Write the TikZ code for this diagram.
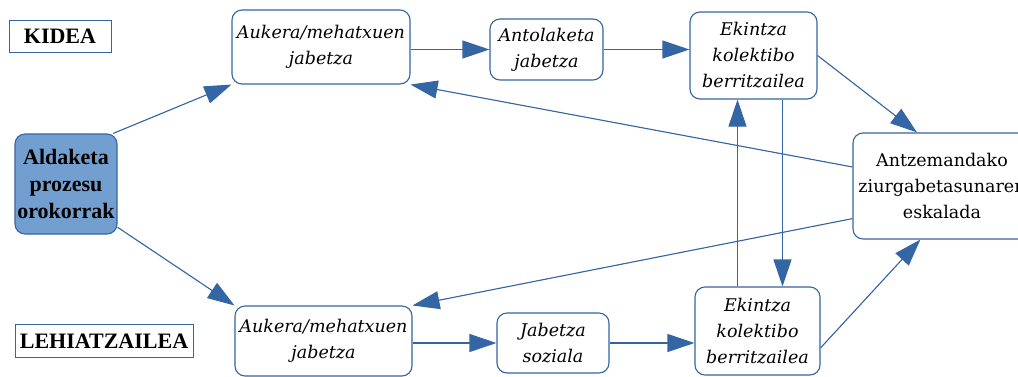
\documentclass[tikz,border=0pt]{standalone}
\usepackage{fontspec}
\setmainfont{DejaVu Serif}
\newfontfamily\labelfont{Liberation Serif}
\usetikzlibrary{positioning, shapes, arrows.meta, calc}

\definecolor{boxblue}{HTML}{3465A4}
\definecolor{fillblue}{HTML}{729FCF}

\begin{document}
\begin{tikzpicture}[x=1pt, y=-1pt,
  box/.style={draw=boxblue, line width=1.1pt, rectangle, rounded corners=10pt, fill=white,
    align=center, inner sep=0pt, font=\fontsize{17.5}{26}\selectfont\itshape},
  tag/.style={draw=boxblue, line width=1pt, rectangle, inner sep=0pt,
    font=\labelfont\bfseries\fontsize{22}{27}\selectfont},
  arr/.style={-{Triangle[length=27pt, width=18pt]}, draw=boxblue, fill=boxblue, line width=1.1pt}]
  \useasboundingbox[fill=white] (0,0) rectangle (1018,376);

  \node[tag, minimum width=102pt, minimum height=32pt] (kidea) at (60,36) {KIDEA};
  \node[tag, minimum width=178pt, minimum height=33pt] (lehia) at (104,341) {LEHIATZAILEA};
  \node[box, fill=fillblue, minimum width=102pt, minimum height=100pt,
    font=\labelfont\bfseries\fontsize{22}{27}\selectfont] (ald) at (66,184) {Aldaketa\\prozesu\\orokorrak};

  \node[box, minimum width=178pt, minimum height=74pt] (auk1) at (321,47) {Aukera/mehatxuen\\jabetza};
  \node[box, minimum width=113pt, minimum height=61pt] (antol) at (546.5,49.5) {Antolaketa\\jabetza};
  \node[box, minimum width=127pt, minimum height=87pt] (ek1) at (753.5,55.5) {Ekintza\\kolektibo\\berritzailea};
  \node[box, minimum width=178pt, minimum height=106pt, font=\fontsize{17.5}{26}\selectfont] (ant) at (942,186) {Antzemandako\\ziurgabetasunaren\\eskalada};

  \node[box, minimum width=177pt, minimum height=70pt] (auk2) at (323.5,341) {Aukera/mehatxuen\\jabetza};
  \node[box, minimum width=112pt, minimum height=60pt] (jab) at (553,343) {Jabetza\\soziala};
  \node[box, minimum width=125pt, minimum height=88pt] (ek2) at (757.5,331) {Ekintza\\kolektibo\\berritzailea};

  % goiko bidea
  \draw[arr] (ald.47) -- (auk1.south west);
  \draw[arr] (antol.west -| auk1.east) -- (antol.west);
  \draw[arr] (antol.east) -- (antol.east -| ek1.west);
  \draw[arr] (ek1.east) -- (ant.115);
  \draw[arr] (ant.168) -- (auk1.south east);

  % beheko bidea
  \draw[arr] (ald.-40) -- (auk2.north west);
  \draw[arr] (jab.west -| auk2.east) -- (jab.west);
  \draw[arr] (jab.east) -- (jab.east -| ek2.west);
  \draw[arr] (ek2.-15) -- (ant.-112);
  \draw[arr] (ant.-160) -- (auk2.north east);

  % bi ekintzen artean
  \draw[arr] ([xshift=-20pt]ek2.north) -- ([xshift=-20pt]ek2.north |- ek1.south);
  \draw[arr] ([xshift=29pt]ek1.south) -- ([xshift=29pt]ek1.south |- ek2.north);
\end{tikzpicture}
\end{document}
